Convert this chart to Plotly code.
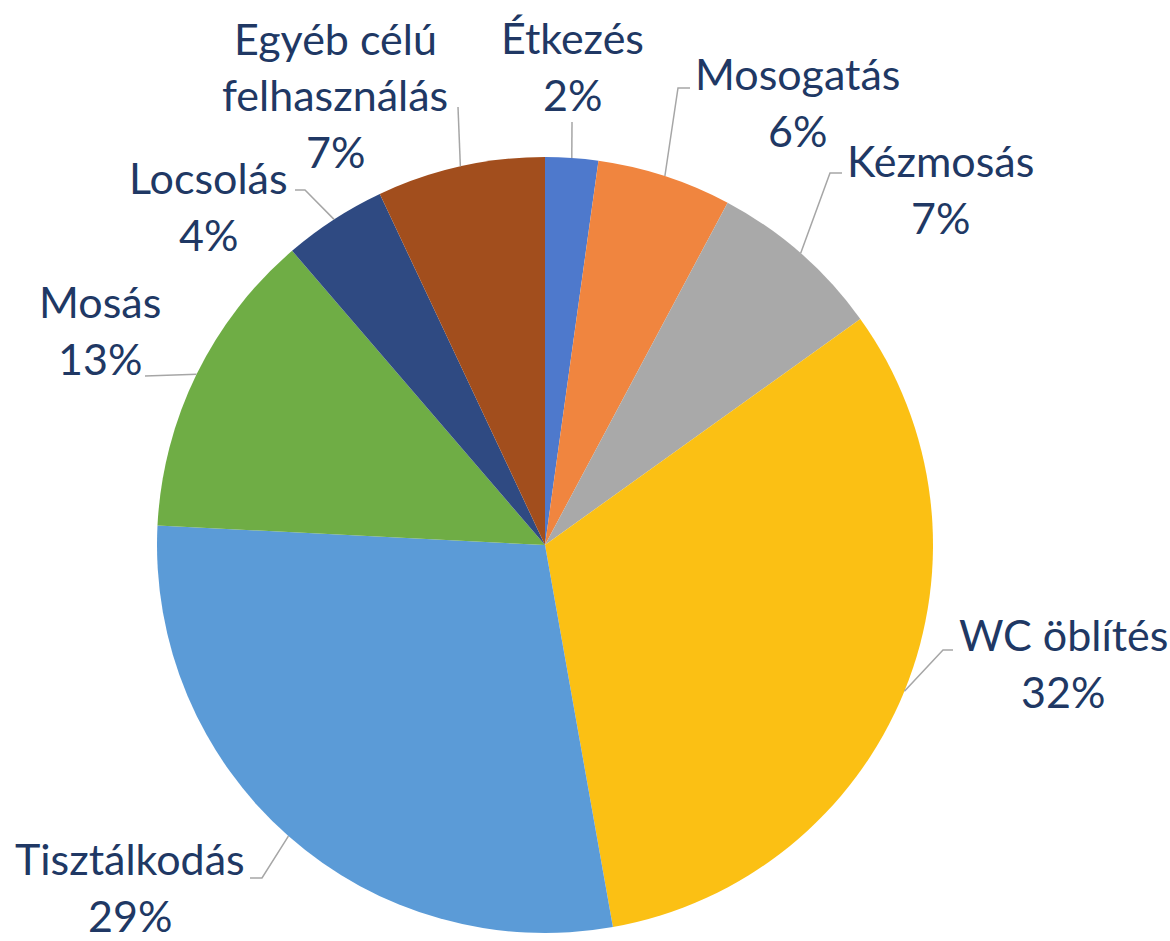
import math
import plotly.graph_objects as go

# ---- data ----
labels = ["Étkezés", "Mosogatás", "Kézmosás", "WC öblítés", "Tisztálkodás",
          "Mosás", "Locsolás", "Egyéb célú<br>felhasználás"]
values = [2.2, 5.6, 7.3, 32.1, 28.6, 12.9, 4.3, 7.0]
colors = ["#4E79CC", "#F0853F", "#A9A9A9", "#FBC014", "#5B9BD7",
          "#6FAD45", "#2F4A82", "#A24E1D"]

# ---- layout (pixels) ----
W, H = 1170, 941
CX, CY, R = 545, 545, 388
FONT = "Lato"
FS = 43
LINE_H = 57
TEXT_COLOR = "#203864"
# label block centre (x, y), leader elbow (x, y), leader end x
label_pos = [
    (572, 66, 572, 122, 572),
    (797, 102, 678, 88, 690),
    (940, 189, 830, 173, 842),
    (1063, 663, 943, 650, 953),
    (130, 887, 262, 878, 250),
    (100, 330, 145, 376, 145),
    (208, 206, 305, 190, 295),
    (335, 95, 458, 107, 458),
]

def px(x):
    return x / W

def py(y):
    return 1 - y / H

fig = go.Figure(go.Pie(
    labels=labels, values=values, sort=False, direction="clockwise",
    rotation=0, marker=dict(colors=colors, line=dict(width=0)),
    textinfo="none", hoverinfo="label+percent", showlegend=False,
    domain=dict(x=[px(CX - R), px(CX + R)], y=[py(CY + R), py(CY - R)]),
))

total = sum(values)
cum = 0.0
annotations = []
shapes = []
for lab, v, pos in zip(labels, values, label_pos):
    mid = (cum + v / 2) / total * 2 * math.pi
    cum += v
    ex = CX + R * math.sin(mid)
    ey = CY - R * math.cos(mid)
    tx, ty, bx, by, hx = pos
    pct = f"{round(v / total * 100)}%"
    lines = lab.split("<br>") + [pct]
    n = len(lines)
    for i, t in enumerate(lines):
        yy = ty + (i - (n - 1) / 2) * LINE_H
        annotations.append(dict(
            x=px(tx), y=py(yy), xref="paper", yref="paper", text=t,
            showarrow=False, xanchor="center", yanchor="middle",
            font=dict(family=FONT, size=FS, color=TEXT_COLOR)))
    path = f"M {px(ex)} {py(ey)} L {px(bx)} {py(by)} L {px(hx)} {py(by)}"
    shapes.append(dict(type="path", xref="paper", yref="paper", path=path,
                       line=dict(color="#A6A6A6", width=1.5)))

fig.update_layout(
    width=W, height=H, margin=dict(l=0, r=0, t=0, b=0),
    paper_bgcolor="white", plot_bgcolor="white",
    annotations=annotations, shapes=shapes,
)
fig.write_html("out.html", config={"displayModeBar": False},
               post_script="document.body.style.margin='0';"
                           "document.body.style.overflow='hidden';")
